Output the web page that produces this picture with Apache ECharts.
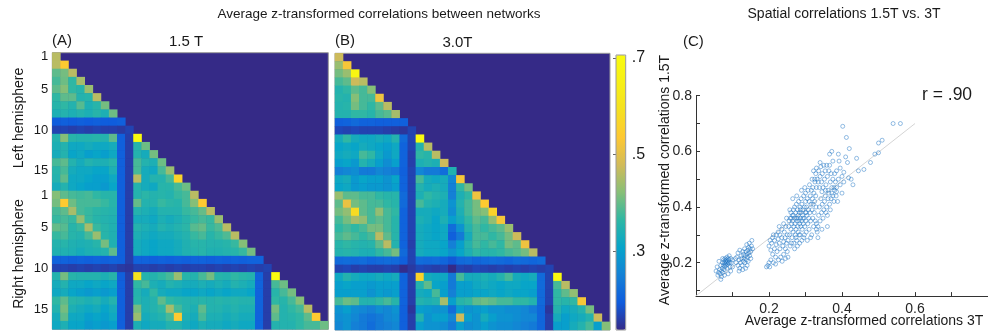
<!DOCTYPE html>
<html>
<head>
<meta charset="utf-8">
<script src="https://cdn.jsdelivr.net/npm/echarts@6/dist/echarts.min.js"></script>
<style>
  html, body { margin: 0; padding: 0; background: #fff; }
  #chart { width: 988px; height: 335px; }
</style>
</head>
<body>
<div id="chart"></div>
<script>
// row tick labels: 17 networks per hemisphere
const rowTickLabels = [
  '1', '', '', '', '5', '', '', '', '', '10', '', '', '', '', '15', '', '',
  '1', '', '', '', '5', '', '', '', '', '10', '', '', '', '', '15', '', ''
];

// lower triangle (incl. diagonal) of the 1.5T matrix, row by row
const corr15T = [
  [.46],
  [.46,.54],
  [.395,.41,.46],
  [.38,.405,.365,.445],
  [.395,.42,.365,.355,.435],
  [.365,.395,.395,.35,.355,.46],
  [.355,.365,.35,.39,.34,.355,.41],
  [.34,.35,.34,.35,.34,.355,.34,.405],
  [.195,.2,.195,.2,.195,.2,.195,.195,.2],
  [.165,.165,.16,.165,.16,.165,.16,.16,.155,.165],
  [.35,.42,.355,.35,.35,.355,.35,.395,.2,.16,.70],
  [.34,.35,.32,.32,.33,.32,.32,.33,.2,.16,.355,.405],
  [.33,.35,.31,.32,.30,.31,.30,.32,.2,.16,.35,.33,.41],
  [.38,.395,.35,.33,.35,.34,.34,.355,.2,.16,.38,.35,.34,.405],
  [.355,.38,.33,.32,.32,.31,.31,.34,.2,.16,.38,.33,.32,.38,.435],
  [.35,.395,.32,.32,.31,.30,.30,.32,.2,.16,.46,.33,.35,.35,.38,.56],
  [.33,.35,.32,.31,.30,.30,.29,.31,.2,.16,.35,.33,.32,.355,.355,.38,.405],
  [.42,.395,.38,.375,.38,.365,.355,.355,.2,.16,.35,.36,.35,.355,.35,.37,.38,.46],
  [.41,.54,.405,.38,.38,.38,.37,.355,.2,.16,.40,.35,.35,.37,.36,.355,.38,.42,.54],
  [.38,.395,.445,.38,.37,.36,.355,.35,.2,.16,.35,.34,.33,.35,.35,.35,.37,.38,.40,.46],
  [.37,.38,.37,.43,.37,.355,.35,.345,.2,.16,.33,.33,.32,.34,.33,.34,.355,.37,.38,.37,.435],
  [.40,.39,.355,.37,.445,.37,.355,.345,.2,.16,.35,.34,.33,.35,.34,.35,.36,.39,.40,.37,.385,.46],
  [.37,.38,.355,.35,.38,.435,.355,.345,.2,.16,.34,.33,.32,.33,.33,.34,.35,.37,.38,.355,.37,.385,.46],
  [.35,.355,.345,.34,.345,.355,.41,.345,.2,.16,.33,.32,.31,.32,.32,.33,.345,.355,.355,.35,.35,.355,.37,.42],
  [.345,.345,.34,.33,.34,.345,.35,.395,.2,.16,.33,.32,.31,.32,.32,.33,.345,.35,.355,.345,.345,.35,.355,.37,.41],
  [.205,.205,.2,.205,.2,.205,.2,.205,.2,.16,.205,.205,.2,.205,.2,.205,.2,.205,.205,.2,.205,.2,.205,.2,.205,.205],
  [.165,.165,.16,.165,.16,.165,.16,.165,.155,.15,.165,.165,.16,.165,.16,.165,.16,.165,.165,.16,.165,.16,.165,.16,.165,.16,.165],
  [.35,.41,.355,.35,.35,.35,.34,.355,.2,.16,.60,.35,.35,.365,.38,.435,.355,.35,.38,.41,.355,.35,.365,.355,.35,.205,.16,.70],
  [.33,.35,.32,.32,.31,.32,.31,.32,.2,.16,.365,.38,.34,.33,.35,.34,.33,.33,.34,.33,.34,.33,.35,.34,.33,.205,.16,.38,.405],
  [.32,.33,.31,.30,.29,.30,.29,.30,.2,.16,.35,.33,.365,.33,.32,.32,.31,.31,.32,.31,.32,.31,.32,.32,.31,.205,.16,.355,.38,.41],
  [.365,.395,.355,.35,.34,.35,.33,.35,.2,.16,.355,.34,.35,.395,.365,.355,.35,.35,.355,.35,.355,.35,.355,.35,.35,.205,.16,.365,.355,.38,.42],
  [.35,.41,.34,.33,.32,.33,.31,.33,.2,.16,.41,.34,.35,.365,.445,.38,.35,.34,.395,.35,.35,.34,.35,.34,.34,.205,.16,.41,.35,.365,.38,.46],
  [.33,.395,.32,.32,.30,.31,.30,.32,.2,.16,.435,.33,.34,.35,.38,.54,.34,.33,.38,.34,.34,.33,.34,.33,.33,.205,.16,.395,.35,.355,.365,.395,.54],
  [.32,.34,.31,.31,.29,.30,.29,.30,.2,.16,.34,.32,.33,.33,.35,.35,.33,.32,.34,.33,.33,.32,.33,.32,.32,.205,.16,.35,.35,.35,.365,.38,.38,.405]
];

// lower triangle (incl. diagonal) of the 3.0T matrix
const corr30T = [
  [.475],
  [.435,.525],
  [.41,.435,.68],
  [.38,.395,.475,.46],
  [.35,.365,.395,.38,.42],
  [.355,.35,.42,.38,.38,.515],
  [.35,.355,.41,.38,.365,.395,.46],
  [.35,.35,.365,.365,.355,.38,.39,.445],
  [.2,.205,.215,.205,.205,.2,.2,.2,.2],
  [.17,.165,.17,.165,.165,.165,.16,.155,.15,.165],
  [.33,.365,.33,.32,.32,.33,.32,.35,.215,.165,.70],
  [.31,.32,.31,.33,.32,.31,.30,.32,.205,.165,.35,.46],
  [.32,.33,.32,.38,.365,.32,.29,.32,.205,.16,.365,.355,.46],
  [.30,.31,.29,.35,.33,.30,.27,.30,.205,.16,.34,.35,.34,.475],
  [.25,.26,.27,.24,.24,.26,.25,.24,.2,.165,.26,.24,.24,.22,.345],
  [.32,.33,.29,.31,.30,.30,.28,.31,.205,.165,.38,.33,.32,.33,.26,.525],
  [.31,.32,.29,.30,.29,.29,.28,.30,.205,.165,.35,.33,.34,.33,.25,.365,.41],
  [.435,.395,.395,.38,.38,.365,.355,.355,.215,.165,.34,.365,.35,.34,.25,.34,.365,.515],
  [.395,.51,.41,.395,.38,.38,.365,.355,.215,.165,.38,.35,.34,.33,.28,.35,.38,.41,.54],
  [.41,.43,.58,.395,.38,.43,.38,.365,.205,.165,.33,.33,.32,.33,.27,.34,.38,.41,.42,.56],
  [.38,.41,.445,.43,.38,.395,.38,.355,.205,.165,.34,.33,.31,.34,.30,.33,.365,.395,.38,.43,.525],
  [.365,.38,.365,.38,.41,.41,.38,.355,.205,.165,.33,.32,.31,.32,.22,.28,.35,.38,.365,.38,.395,.435],
  [.38,.395,.38,.365,.38,.46,.395,.355,.205,.165,.33,.32,.31,.32,.20,.24,.33,.38,.38,.365,.38,.41,.475],
  [.355,.365,.355,.35,.355,.395,.46,.35,.205,.16,.33,.32,.32,.31,.25,.30,.35,.38,.365,.38,.365,.41,.395,.515],
  [.35,.355,.35,.34,.34,.365,.38,.41,.215,.165,.33,.32,.32,.31,.28,.31,.34,.365,.355,.355,.365,.38,.39,.41,.46],
  [.215,.22,.215,.22,.21,.215,.22,.215,.2,.165,.22,.215,.22,.21,.19,.215,.22,.21,.215,.22,.215,.21,.22,.215,.21,.215],
  [.165,.17,.16,.165,.16,.16,.165,.16,.14,.155,.17,.165,.16,.165,.13,.165,.16,.17,.165,.16,.165,.16,.165,.16,.165,.16,.165],
  [.32,.35,.33,.32,.32,.33,.32,.33,.205,.16,.56,.33,.32,.32,.24,.38,.33,.33,.34,.33,.35,.38,.33,.32,.33,.215,.165,.70],
  [.30,.31,.30,.30,.29,.30,.30,.30,.205,.16,.35,.395,.31,.30,.24,.30,.30,.32,.33,.32,.31,.32,.32,.31,.31,.215,.165,.38,.46],
  [.30,.30,.30,.30,.28,.30,.29,.30,.205,.16,.33,.32,.38,.30,.25,.30,.30,.31,.31,.32,.31,.32,.31,.31,.30,.215,.165,.365,.395,.43],
  [.38,.405,.395,.35,.35,.365,.38,.355,.205,.16,.35,.34,.35,.445,.30,.355,.365,.395,.405,.395,.38,.38,.365,.365,.35,.215,.165,.365,.355,.365,.525],
  [.28,.30,.27,.26,.25,.27,.26,.28,.2,.15,.30,.29,.28,.28,.22,.30,.28,.29,.30,.28,.28,.27,.27,.26,.24,.21,.15,.35,.32,.33,.35,.41],
  [.27,.28,.26,.24,.23,.24,.26,.27,.2,.16,.35,.28,.30,.30,.26,.475,.30,.28,.33,.30,.28,.28,.27,.26,.26,.21,.16,.33,.30,.32,.33,.35,.475],
  [.26,.28,.25,.24,.22,.24,.25,.26,.2,.16,.30,.28,.28,.27,.24,.30,.27,.28,.30,.28,.27,.27,.26,.25,.24,.21,.16,.30,.30,.33,.35,.38,.30,.42]
];

const colorbarTicks = [0.3, 0.5, 0.7];
const scatterLabelsX = [0.2, 0.4, 0.6];
const scatterTicksX = [0.1, 0.2, 0.3, 0.4, 0.5, 0.6, 0.7];
const scatterLabelsY = [0.2, 0.4, 0.6, 0.8];
const scatterTicksY = [0.1, 0.2, 0.3, 0.4, 0.5, 0.6, 0.7, 0.8];

// [3T, 1.5T] pairs
const scatterPoints = [
  [.055,.17],[.06,.155],[.058,.185],[.062,.165],[.065,.175],[.066,.16],[.068,.19],[.07,.17],[.07,.15],[.072,.18],
  [.073,.2],[.074,.165],[.075,.19],[.076,.21],[.077,.175],[.078,.2],[.079,.185],[.08,.215],[.08,.195],[.081,.205],
  [.082,.19],[.083,.21],[.084,.2],[.085,.22],[.085,.18],[.086,.205],[.087,.195],[.088,.215],[.089,.2],[.09,.21],
  [.091,.225],[.092,.2],[.093,.185],[.095,.215],[.097,.2],[.1,.21],[.068,.14],[.078,.155],[.088,.16],[.063,.205],
  [.073,.215],[.095,.17],[.1,.185],
  [.11,.2],[.112,.22],[.115,.19],[.115,.235],[.118,.21],[.12,.18],[.12,.245],[.122,.2],[.124,.225],[.125,.215],
  [.126,.19],[.128,.24],[.13,.205],[.13,.23],[.132,.215],[.133,.25],[.134,.2],[.135,.225],[.136,.18],[.137,.24],
  [.138,.21],[.139,.265],[.14,.23],[.141,.22],[.142,.245],[.143,.205],[.144,.255],[.145,.235],[.146,.27],[.147,.225],
  [.148,.25],[.15,.24],[.152,.26],[.153,.28],[.155,.25],[.118,.17],[.128,.175],[.14,.19],[.108,.215],[.15,.215],
  [.193,.185],[.197,.19],[.2,.2],[.202,.185],[.205,.21],[.2,.26],[.203,.28],[.207,.27],[.21,.23],[.21,.29],
  [.212,.2],[.215,.25],[.215,.28],[.218,.22],[.22,.3],[.22,.265],[.222,.24],[.225,.285],[.226,.21],[.228,.27],
  [.23,.3],[.23,.25],[.232,.22],[.235,.29],[.235,.32],[.238,.26],[.24,.275],[.24,.23],[.242,.31],[.244,.29],
  [.245,.25],[.246,.33],[.248,.27],[.25,.3],[.25,.24],[.205,.245],[.212,.3],[.225,.31],[.236,.205],[.218,.195],
  [.24,.34],[.248,.36],[.228,.33],[.252,.22],[.245,.215],
  [.252,.28],[.254,.33],[.255,.35],[.256,.3],[.258,.36],[.258,.26],[.26,.32],[.26,.38],[.262,.34],[.263,.29],
  [.264,.37],[.265,.35],[.266,.31],[.267,.39],[.268,.27],[.268,.33],[.27,.36],[.27,.4],[.271,.34],[.272,.3],
  [.273,.38],[.274,.32],[.275,.36],[.275,.41],[.276,.28],[.277,.35],[.278,.39],[.279,.33],[.28,.37],[.28,.31],
  [.281,.42],[.282,.35],[.283,.38],[.284,.34],[.285,.4],[.285,.3],[.286,.36],[.287,.33],[.288,.43],[.288,.38],
  [.29,.35],[.29,.41],[.291,.32],[.292,.37],[.293,.39],[.294,.34],[.295,.44],[.295,.29],[.296,.36],[.297,.4],
  [.298,.33],[.3,.38],[.3,.42],[.3,.45],[.301,.35],[.302,.31],[.303,.4],[.304,.37],[.305,.43],[.306,.34],
  [.307,.46],[.308,.39],[.309,.36],[.31,.42],[.31,.32],[.311,.48],[.312,.38],[.313,.44],[.314,.35],[.315,.41],
  [.316,.46],[.317,.3],[.318,.39],[.319,.43],[.32,.36],[.32,.47],[.321,.41],[.322,.33],[.323,.45],[.324,.38],
  [.325,.42],[.326,.49],[.327,.35],[.328,.44],[.329,.4],[.33,.47],[.33,.32],[.262,.27],[.27,.25],[.278,.26],
  [.284,.27],[.265,.43],[.276,.44],[.283,.3],[.29,.28],[.297,.3],[.305,.28],[.314,.29],[.257,.39],[.274,.29],
  [.289,.46],[.298,.47],[.261,.36],[.267,.37],[.279,.36],[.286,.39],[.293,.36],[.302,.38],
  [.33,.34],[.332,.31],[.334,.33],[.336,.37],[.338,.4],[.34,.35],[.342,.43],[.344,.38],[.346,.41],[.348,.36],
  [.35,.39],[.352,.42],[.354,.44],[.356,.38],[.358,.4],[.36,.37],[.362,.43],[.364,.45],[.366,.41],[.368,.39],
  [.37,.43],[.372,.45],[.375,.44],[.378,.42],[.38,.46],[.384,.44],[.388,.42],[.334,.29],[.345,.32],[.36,.33],
  [.325,.5],[.328,.52],[.33,.54],[.332,.5],[.335,.49],[.336,.53],[.338,.47],[.34,.51],[.342,.545],[.344,.49],
  [.346,.52],[.348,.47],[.35,.55],[.352,.5],[.354,.53],[.356,.48],[.358,.55],[.36,.51],[.362,.46],[.364,.53],
  [.366,.55],[.368,.49],[.37,.52],[.372,.47],[.375,.5],[.378,.47],[.38,.52],[.382,.49],[.385,.47],[.39,.5],
  [.318,.5],[.322,.53],[.34,.56],[.355,.46],[.345,.455],
  [.366,.59],[.372,.6],[.39,.59],[.402,.69],[.412,.65],[.42,.61],[.41,.58],[.415,.56],[.44,.575],[.445,.53],
  [.43,.48],[.40,.51],[.405,.49],[.40,.45],[.385,.455],[.478,.56],[.50,.63],[.51,.64],[.49,.59],[.50,.595],
  [.54,.70],[.56,.70],[.46,.535],[.395,.54],[.405,.525],[.418,.505],[.425,.5],[.395,.48],[.385,.53],[.375,.565],
  [.392,.565]
];

const fitLine = [[0, 0.081], [0.6, 0.70]];

const parula = ['#352a87', '#0f5cdd', '#1481d6', '#06a4ca', '#2eb7a4', '#87bf77',
  '#d1bb59', '#fec832', '#f5e020', '#f7f016', '#f9fb0e'];

const FONT = '"Liberation Sans", Arial, sans-serif';

function toCells(matrix) {
  const cells = [];
  matrix.forEach((row, r) => row.forEach((v, c) => cells.push([c, r, v])));
  return cells;
}

const idx = rowTickLabels.map((_, i) => i);

function heatX(gridIndex) {
  return {
    type: 'category', gridIndex, data: idx, boundaryGap: true,
    axisLine: { show: false },
    axisTick: { show: true, inside: true, length: 3, alignWithLabel: true,
      interval: (i) => (i + 1) % 5 === 0, lineStyle: { color: '#777' } },
    axisLabel: { show: false },
    splitLine: { show: false }
  };
}

function heatY(gridIndex, showLabels) {
  return {
    type: 'category', gridIndex, data: idx, inverse: true,
    axisLine: { show: false },
    axisTick: { show: true, inside: true, length: 3, alignWithLabel: true, interval: 0,
      lineStyle: { color: '#777' } },
    axisLabel: { show: showLabels, interval: 0, margin: 4, fontSize: 13, fontFamily: FONT,
      color: '#1a1a1a', formatter: (v) => rowTickLabels[v] },
    splitLine: { show: false }
  };
}

function text(str, x, y, size, align, extra) {
  return Object.assign({
    type: 'text', x, y, silent: true,
    style: { text: str, font: size + 'px ' + FONT, fill: '#1a1a1a',
      textAlign: align || 'center', textVerticalAlign: 'middle' }
  }, extra || {});
}

const chart = echarts.init(document.getElementById('chart'), null, { renderer: 'canvas' });

chart.setOption({
  animation: false,
  backgroundColor: '#fff',
  grid: [
    { left: 52.3, top: 52.7, width: 276, height: 276.6, show: true,
      backgroundColor: '#352a87', borderColor: '#9a9a9a', borderWidth: 1 },
    { left: 335, top: 53.3, width: 275, height: 276.7, show: true,
      backgroundColor: '#352a87', borderColor: '#9a9a9a', borderWidth: 1 },
    { left: 696, top: 95.7, width: 333.3, height: 200.4 },
    { left: 616, top: 55, width: 9.7, height: 275, show: true,
      borderColor: '#9a9a9a', borderWidth: 1, z: 5 }
  ],
  xAxis: [
    heatX(0),
    heatX(1),
    {
      type: 'value', gridIndex: 2, min: 0, max: 0.8,
      axisLine: { show: true, onZero: false, lineStyle: { color: '#333', width: 1 } },
      axisTick: { show: true, inside: true, length: 4, customValues: scatterTicksX,
        lineStyle: { color: '#333' } },
      axisLabel: { customValues: scatterLabelsX, formatter: (v) => v.toFixed(1),
        fontSize: 14, fontFamily: FONT, color: '#262626', margin: 6 },
      splitLine: { show: false }
    },
    { type: 'value', gridIndex: 3, show: false, min: 0, max: 1 }
  ],
  yAxis: [
    heatY(0, true),
    heatY(1, false),
    {
      type: 'value', gridIndex: 2, min: 0.08, max: 0.8,
      axisLine: { show: true, onZero: false, lineStyle: { color: '#333', width: 1 } },
      axisTick: { show: true, inside: true, length: 4, customValues: scatterTicksY,
        lineStyle: { color: '#333' } },
      axisLabel: { customValues: scatterLabelsY, formatter: (v) => v.toFixed(1),
        fontSize: 14, fontFamily: FONT, color: '#262626', margin: 4 },
      splitLine: { show: false }
    },
    {
      type: 'value', gridIndex: 3, position: 'right', min: 0.137, max: 0.706,
      axisLine: { show: false },
      axisTick: { show: true, inside: true, length: 3, customValues: colorbarTicks,
        lineStyle: { color: '#666' } },
      axisLabel: { customValues: colorbarTicks, fontSize: 16, fontFamily: FONT,
        color: '#1a1a1a', margin: 6, formatter: (v) => '.' + Math.round(v * 10) },
      splitLine: { show: false }
    }
  ],
  visualMap: {
    type: 'continuous', min: 0.137, max: 0.706, seriesIndex: [0, 1], dimension: 2,
    calculable: false, hoverLink: false, text: null, padding: 0,
    left: 616, top: 55, itemWidth: 9.7, itemHeight: 275,
    inRange: { color: parula }
  },
  series: [
    { type: 'heatmap', xAxisIndex: 0, yAxisIndex: 0, data: toCells(corr15T),
      itemStyle: { borderWidth: 0 }, emphasis: { disabled: true }, progressive: 0 },
    { type: 'heatmap', xAxisIndex: 1, yAxisIndex: 1, data: toCells(corr30T),
      itemStyle: { borderWidth: 0 }, emphasis: { disabled: true }, progressive: 0 },
    { type: 'line', xAxisIndex: 2, yAxisIndex: 2, data: fitLine, symbol: 'none',
      silent: true, z: 1, lineStyle: { color: '#d4d4d4', width: 1 } },
    { type: 'scatter', xAxisIndex: 2, yAxisIndex: 2, data: scatterPoints, z: 2,
      symbol: 'circle', symbolSize: 4,
      itemStyle: { color: 'rgba(255,255,255,0)', borderColor: 'rgba(30,115,195,0.75)', borderWidth: 0.8 } }
  ],
  graphic: [
    text('Average z-transformed correlations between networks', 379, 14, 13.5),
    text('Spatial correlations 1.5T vs. 3T', 844, 14, 14),
    text('(A)', 52, 41, 15, 'left'),
    text('1.5 T', 186, 42, 15),
    text('(B)', 335, 41, 15, 'left'),
    text('3.0T', 457.5, 43, 15),
    text('(C)', 683, 42, 15, 'left'),
    text('r = .90', 922, 95, 17.5, 'left'),
    text('Left hemisphere', 19, 118, 14, 'center', { rotation: Math.PI / 2 }),
    text('Right hemisphere', 19, 254, 14, 'center', { rotation: Math.PI / 2 }),
    text('Average z-transformed correlations 1.5T', 665, 180, 14, 'center', { rotation: Math.PI / 2 }),
    text('Average z-transformed correlations 3T', 864, 321, 14)
  ]
});
</script>
</body>
</html>
